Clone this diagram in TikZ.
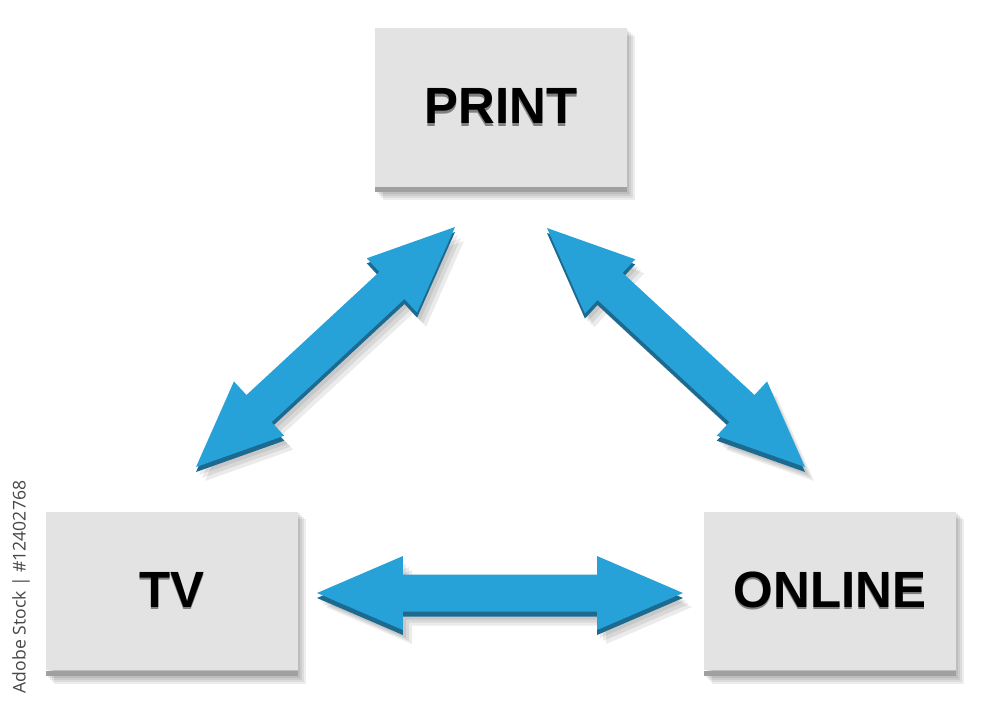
\documentclass[tikz,border=0pt]{standalone}
\usepackage{fontspec}
\setmainfont{Liberation Sans}
\newfontfamily\stockfont{Open Sans}
\usetikzlibrary{calc,positioning,backgrounds}

\definecolor{boxgray}{HTML}{E3E3E3}
\definecolor{edgegray}{HTML}{A0A0A0}
\definecolor{arrowblue}{HTML}{27A2D8}
\definecolor{arrowside}{HTML}{1C6A90}

\newcommand{\shadowed}[1]{\makebox[0pt][l]{\raisebox{-1.6pt}{\textcolor{gray}{#1}}}#1}
% outline of a two-headed arrow between two points
\newcommand{\dblarrow}[2]{%
  (#1) -- ($(#1)!1.72cm!(#2)!0.74cm!90:(#2)$)
  -- ($(#1)!1.72cm!(#2)!0.37cm!90:(#2)$)
  -- ($(#2)!1.72cm!(#1)!0.37cm!-90:(#1)$)
  -- ($(#2)!1.72cm!(#1)!0.74cm!-90:(#1)$)
  -- (#2)
  -- ($(#2)!1.72cm!(#1)!0.74cm!90:(#1)$)
  -- ($(#2)!1.72cm!(#1)!0.37cm!90:(#1)$)
  -- ($(#1)!1.72cm!(#2)!0.37cm!-90:(#2)$)
  -- ($(#1)!1.72cm!(#2)!0.74cm!-90:(#2)$)
  -- cycle}

\tikzset{
  mediabox/.style={minimum width=5.04cm, minimum height=3.18cm, inner sep=0pt,
    fill=boxgray, font=\fontsize{29}{30}\selectfont\bfseries},
  boxedge/.style={fill=edgegray},
  softshade/.style={fill=black, opacity=0.07},
}

\begin{document}
\begin{tikzpicture}[x=0.02cm, y=-0.02cm]
	\useasboundingbox (0,0) rectangle (1000,707);
	\begin{scope}[on background layer]
		\fill[white] (0,0) rectangle (1000,707);
	\end{scope}

	% media boxes
	\node[mediabox] (print) at (501,107.5) {\shadowed{PRINT}};
	\node[mediabox] (tv) at (172,591) {\shadowed{TV}};
	\node[mediabox] (online) at (830,591) {\shadowed{ONLINE}};
	\foreach \n in {print,tv,online} {
		\fill[boxedge] (\n.south west) rectangle ([yshift=-0.1cm]\n.south east);
		\begin{scope}[on background layer]
			\foreach \s in {2,4,6,8}
				\fill[softshade] ([shift={(\s*0.02cm,-\s*0.02cm)}]\n.north west) rectangle ([shift={(\s*0.02cm,-\s*0.02cm-0.1cm)}]\n.south east);
		\end{scope}
	}

	% arrow ends
	\coordinate (pa) at (455,227);
	\coordinate (ta) at (196,467);
	\coordinate (pb) at (547,228);
	\coordinate (oa) at (805,467);
	\coordinate (tb) at (317,593);
	\coordinate (ob) at (683,593);

	% arrows
	\foreach \a/\b in {pa/ta,pb/oa,tb/ob} {
		\foreach \s in {3,6,9}
			\fill[softshade, opacity=0.08, transform canvas={shift={(\s*0.02cm,-\s*0.02cm-0.1cm)}}] \dblarrow{\a}{\b};
		\fill[arrowside, transform canvas={yshift=-0.1cm}] \dblarrow{\a}{\b};
		\fill[arrowblue] \dblarrow{\a}{\b};
	}

	\node[rotate=90, text=black!72, font=\stockfont\fontsize{10}{12}\selectfont] (stock) at (21,587) {Adobe Stock | \#12402768};
\end{tikzpicture}
\end{document}
